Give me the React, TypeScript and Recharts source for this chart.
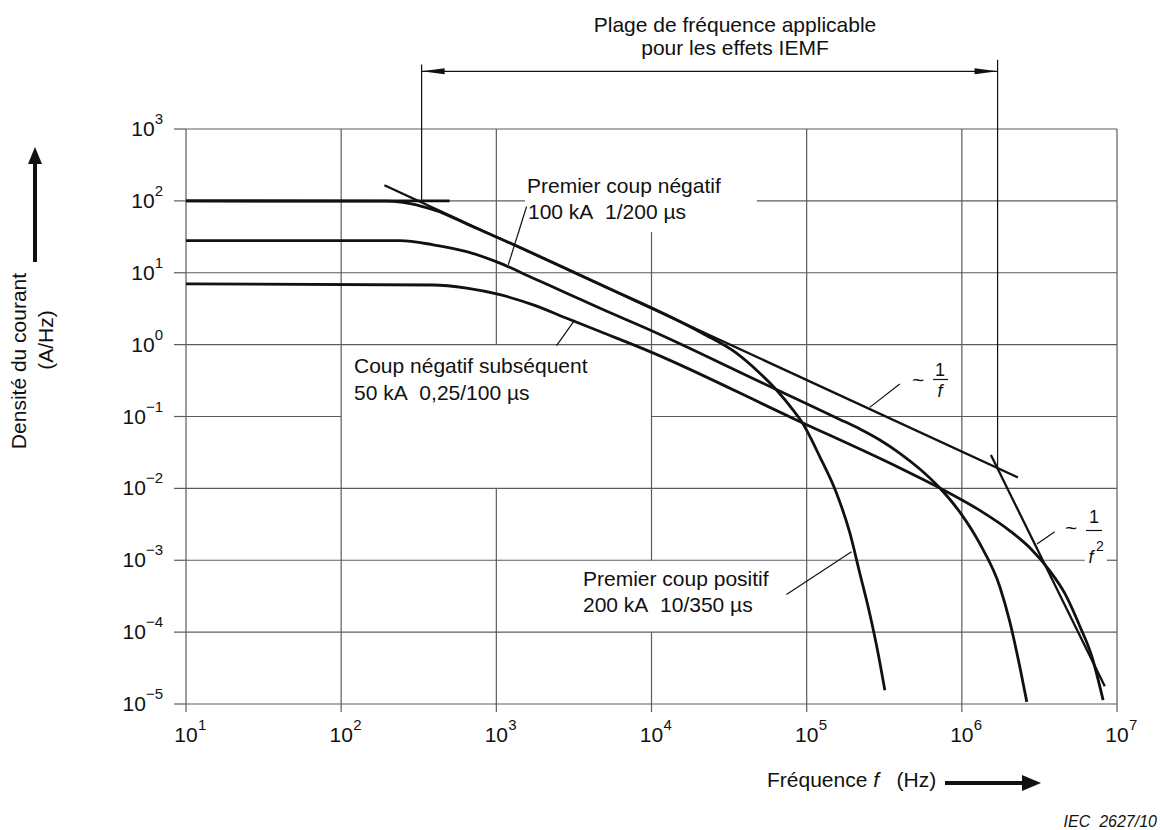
import React from "react";
import { LineChart, Line, XAxis, YAxis, ReferenceLine } from "recharts";

if (typeof document !== "undefined") document.body.style.margin = "0";

const FONT = "'Liberation Sans', Arial, Helvetica, sans-serif";
const INK = "#111";
const GRID = "#5c5c5c";
const SP = "\u00a0";

const xTicks = [1e1, 1e2, 1e3, 1e4, 1e5, 1e6, 1e7];
const yTicks = [1e-5, 1e-4, 1e-3, 1e-2, 1e-1, 1, 1e1, 1e2, 1e3];

// points : [fréquence (Hz), densité (A/Hz)]
const premierPositif: [number, number][] = [
  [10, 100], [190, 99], [250, 95], [330, 84], [420, 72], [530, 58], [700, 44],
  [1000, 31.5], [4660, 6.9], [21400, 1.43], [35300, 0.76], [49900, 0.4],
  [63900, 0.234], [81800, 0.123], [92700, 0.085], [121600, 0.0275],
  [156000, 0.0085], [189800, 0.0024], [220000, 0.00066], [255000, 0.00018],
  [289000, 5.0e-5], [319000, 1.55e-5],
];
const premierNegatif: [number, number][] = [
  [10, 28], [239, 28], [392, 24.5], [644, 19.7], [1055, 13.6], [1730, 8.4],
  [2840, 5.2], [4660, 3.2], [9770, 1.6], [49900, 0.305], [104900, 0.143],
  [163700, 0.0911], [220200, 0.067], [296200, 0.0471], [398500, 0.0308],
  [536300, 0.0186], [721400, 0.0101], [970800, 0.00467], [1.306e6, 0.0017],
  [1.757e6, 0.000428], [2.039e6, 0.000139], [2.364e6, 3.29e-5], [2.623e6, 1.07e-5],
];
const subsequent: [number, number][] = [
  [10, 7], [390, 6.75], [644, 6.1], [1055, 4.95], [1730, 3.57], [2840, 2.33],
  [4660, 1.52], [9770, 0.8], [81800, 0.094], [398500, 0.0192], [721400, 0.0101],
  [1.306e6, 0.00494], [2.039e6, 0.00257], [2.743e6, 0.00149], [3.69e6, 0.000711],
  [4.61e6, 0.000346], [5.76e6, 0.000121], [6.88e6, 4.62e-5], [8.14e6, 1.13e-5],
];
const plateau: [number, number][] = [[10, 100], [500, 100]];
const penteUnSurF: [number, number][] = [[190, 165], [2.3e6, 0.0142]];
const penteUnSurF2: [number, number][] = [[1.54e6, 0.0291], [8.34e6, 1.77e-5]];

// plage IEMF : bornes en Hz, hauteur de la flèche, extrémités des traits de rappel
const iemfBounds = [330, 1.7e6];
const iemfArrowY = 6340;
const iemfTop = [7870, 9230];
const iemfBottom = [100, 0.0198];

// traits de repère des étiquettes
const leaders: [number, number][][] = [
  [[1567, 83.6], [1194, 12.9]],
  [[3206, 2.21], [2443, 0.968]],
  [[74100, 3.34e-4], [194600, 1.31e-3]],
  [[398000, 0.284], [255000, 0.134]],
  [[3.97e6, 2.49e-3], [3.05e6, 1.68e-3]],
];

// interruptions de la grille autour des étiquettes : [ligne, de, à]
const hGaps: [number, number, number][] = [
  [1e2, 1530, 47700],
  [1e-1, 1e2, 1e4],
  [1e-3, 6.2e6, 8.6e6],
];
const vGaps: [number, number, number][] = [
  [1e3, 1e-2, 1],
  [1e4, 37, 1e3],
  [1e4, 1e-4, 1e-3],
];

const rows = (pts: [number, number][]) => pts.map(([f, y]) => ({ f, y }));

const split = (lo: number, hi: number, gaps: [number, number][]) => {
  const out: [number, number][] = [];
  let start = lo;
  [...gaps].sort((a, b) => a[0] - b[0]).forEach(([a, b]) => {
    if (a > start) out.push([start, a]);
    start = Math.max(start, b);
  });
  if (start < hi) out.push([start, hi]);
  return out;
};

const hSegments = yTicks.flatMap((y) =>
  split(10, 1e7, hGaps.filter((g) => g[0] === y).map((g) => [g[1], g[2]] as [number, number]))
    .map(([a, b]) => [{ x: a, y }, { x: b, y }])
);
const vSegments = xTicks.flatMap((x) =>
  split(1e-5, 1e3, vGaps.filter((g) => g[0] === x).map((g) => [g[1], g[2]] as [number, number]))
    .map(([a, b]) => [{ x, y: a }, { x, y: b }])
);

const sup = (e: number) => (e < 0 ? "\u2212" + -e : String(e));

const XTick = ({ x, y, payload }: any) => {
  const e = Math.round(Math.log10(payload.value));
  return (
    <g fontFamily={FONT} fill={INK}>
      <text x={x} y={y + 26} textAnchor="middle" fontSize={21}>10</text>
      <text x={x + 12} y={y + 14} fontSize={15}>{sup(e)}</text>
    </g>
  );
};

const YTick = ({ x, y, payload }: any) => {
  const e = Math.round(Math.log10(payload.value));
  return (
    <text x={x} y={y + 7} textAnchor="end" fontFamily={FONT} fill={INK} fontSize={21}>
      <tspan>10</tspan>
      <tspan dy={-12} fontSize={15}>{sup(e)}</tspan>
    </text>
  );
};

const RangeArrow = (p: any) => {
  const { x1, y1, x2, y2 } = p;
  return (
    <g>
      <line x1={x1} y1={y1} x2={x2} y2={y2} stroke={INK} strokeWidth={1.3} />
      <polygon points={`${x1},${y1} ${x1 + 23},${y1 - 3} ${x1 + 23},${y1 + 3}`} fill={INK} />
      <polygon points={`${x2},${y2} ${x2 - 23},${y2 - 3} ${x2 - 23},${y2 + 3}`} fill={INK} />
    </g>
  );
};

const Overlay = () => (
  <svg
    width={1160}
    height={830}
    style={{ position: "absolute", left: 0, top: 0, pointerEvents: "none" }}
  >
    <g fontFamily={FONT} fill={INK} fontSize={21}>
      <text x={735} y={32} textAnchor="middle">Plage de fréquence applicable</text>
      <text x={735} y={55} textAnchor="middle">pour les effets IEMF</text>

      <text x={527} y={193}>Premier coup négatif</text>
      <text x={528} y={219}>{`100 kA${SP}${SP}1/200 µs`}</text>

      <text x={354} y={373}>Coup négatif subséquent</text>
      <text x={354} y={400}>{`50 kA${SP}${SP}0,25/100 µs`}</text>

      <text x={583} y={586}>Premier coup positif</text>
      <text x={583} y={612}>{`200 kA${SP}${SP}10/350 µs`}</text>

      <text x={912} y={387} fontSize={21}>~</text>
      <text x={940} y={376} fontSize={18} textAnchor="middle">1</text>
      <line x1={933} y1={379.5} x2={948} y2={379.5} stroke={INK} strokeWidth={1.2} />
      <text x={940} y={397} fontSize={18} textAnchor="middle" fontStyle="italic">f</text>

      <text x={1065} y={535} fontSize={21}>~</text>
      <text x={1094} y={523} fontSize={18} textAnchor="middle">1</text>
      <line x1={1086} y1={530.5} x2={1102} y2={530.5} stroke={INK} strokeWidth={1.2} />
      <text x={1091} y={563} fontSize={18} textAnchor="middle" fontStyle="italic">f</text>
      <text x={1096} y={551} fontSize={14}>2</text>

      <text transform="rotate(-90 26 361)" x={26} y={361} textAnchor="middle">
        Densité du courant
      </text>
      <text transform="rotate(-90 53 340)" x={53} y={340} textAnchor="middle">
        (A/Hz)
      </text>
      <line x1={35} y1={262} x2={35} y2={160} stroke={INK} strokeWidth={4} />
      <polygon points="35,147 28,164 42,164" fill={INK} />

      <text x={767} y={787}>
        {`Fréquence `}<tspan fontStyle="italic">f</tspan>{`${SP}${SP}${SP}(Hz)`}
      </text>
      <line x1={945} y1={783} x2={1025} y2={783} stroke={INK} strokeWidth={4} />
      <polygon points="1041,783 1022,775 1022,791" fill={INK} />

      <text x={1157} y={827} fontSize={16} textAnchor="end" fontStyle="italic">{`IEC${SP}${SP}2627/10`}</text>
    </g>
  </svg>
);

export default function App() {
  return (
    <div style={{ position: "relative", width: 1160, height: 830, background: "#fff" }}>
      <LineChart width={1160} height={830} margin={{ top: 129, right: 43, bottom: 86, left: 126 }}>
        <XAxis
          type="number"
          dataKey="f"
          scale="log"
          domain={[10, 1e7]}
          ticks={xTicks}
          interval={0}
          allowDataOverflow
          axisLine={false}
          tickSize={8}
          tickMargin={4}
          height={40}
          tickLine={{ stroke: GRID, strokeWidth: 1.2 }}
          tick={XTick}
        />
        <YAxis
          type="number"
          dataKey="y"
          scale="log"
          domain={[1e-5, 1e3]}
          ticks={yTicks}
          interval={0}
          allowDataOverflow
          axisLine={false}
          tickSize={12}
          tickMargin={11}
          width={60}
          tickLine={{ stroke: GRID, strokeWidth: 1.2 }}
          tick={YTick}
        />
        {hSegments.map((s, i) => (
          <ReferenceLine key={"h" + i} segment={s} stroke={GRID} strokeWidth={1.2} ifOverflow="visible" />
        ))}
        {vSegments.map((s, i) => (
          <ReferenceLine key={"v" + i} segment={s} stroke={GRID} strokeWidth={1.2} ifOverflow="visible" />
        ))}
        <ReferenceLine
          segment={[{ x: iemfBounds[0], y: iemfTop[0] }, { x: iemfBounds[0], y: iemfBottom[0] }]}
          stroke={INK}
          strokeWidth={1.2}
          ifOverflow="visible"
        />
        <ReferenceLine
          segment={[{ x: iemfBounds[1], y: iemfTop[1] }, { x: iemfBounds[1], y: iemfBottom[1] }]}
          stroke={INK}
          strokeWidth={1.2}
          ifOverflow="visible"
        />
        <ReferenceLine
          segment={[{ x: iemfBounds[0], y: iemfArrowY }, { x: iemfBounds[1], y: iemfArrowY }]}
          ifOverflow="visible"
          shape={RangeArrow}
        />
        {leaders.map((s, i) => (
          <ReferenceLine
            key={"l" + i}
            segment={s.map(([x, y]) => ({ x, y }))}
            stroke={INK}
            strokeWidth={1.2}
            ifOverflow="visible"
          />
        ))}
        <Line data={rows(plateau)} dataKey="y" type="linear" stroke={INK} strokeWidth={2.8} dot={false} isAnimationActive={false} />
        <Line data={rows(penteUnSurF)} dataKey="y" type="linear" stroke={INK} strokeWidth={2.3} dot={false} isAnimationActive={false} />
        <Line data={rows(penteUnSurF2)} dataKey="y" type="linear" stroke={INK} strokeWidth={2.3} dot={false} isAnimationActive={false} />
        <Line data={rows(premierPositif)} dataKey="y" type="monotone" stroke={INK} strokeWidth={2.8} dot={false} isAnimationActive={false} />
        <Line data={rows(premierNegatif)} dataKey="y" type="monotone" stroke={INK} strokeWidth={2.8} dot={false} isAnimationActive={false} />
        <Line data={rows(subsequent)} dataKey="y" type="monotone" stroke={INK} strokeWidth={2.8} dot={false} isAnimationActive={false} />
      </LineChart>
      <Overlay />
    </div>
  );
}
